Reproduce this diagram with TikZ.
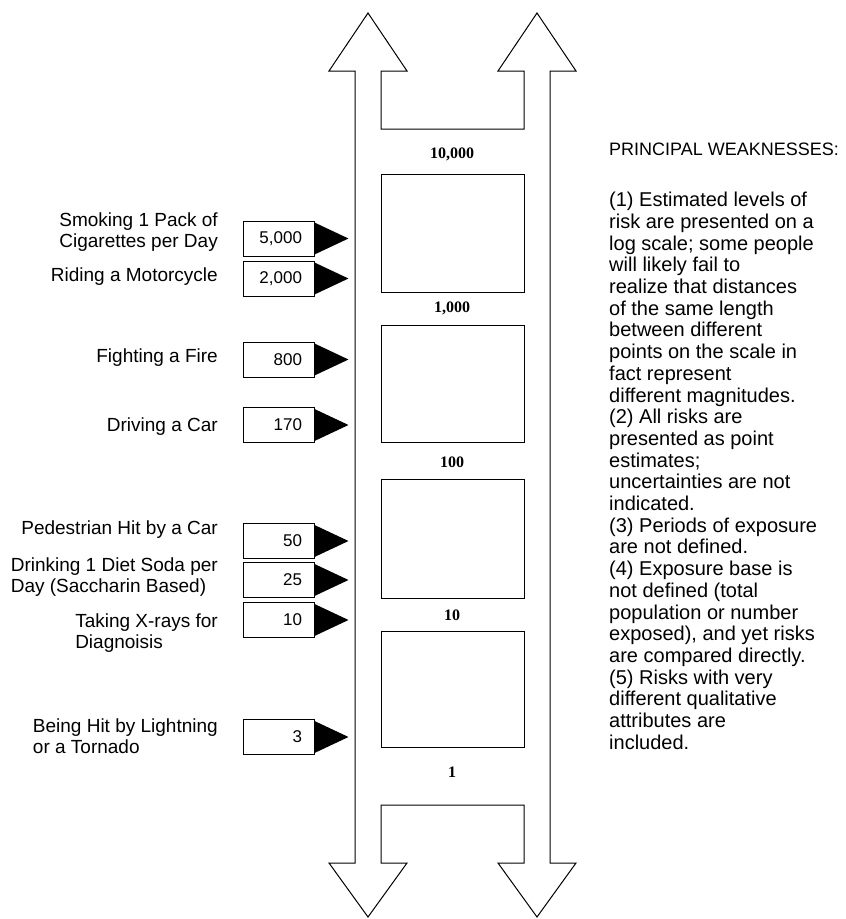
\documentclass[tikz,border=0pt]{standalone}
\usepackage{fontspec}
\setmainfont{Liberation Sans}
\newfontfamily\rungfont{Liberation Serif}

\tikzset{
    ladder/.style={line width=1pt, line join=miter},
    window/.style={line width=1pt},
    rung/.style={inner sep=0pt, font=\rungfont\bfseries\fontsize{16}{18}\selectfont},
    valbox/.style={draw, line width=1pt, minimum height=35pt, text width=47pt,
        inner xsep=12pt, align=right, font=\fontsize{17}{19}\selectfont},
    risk/.style={anchor=east, align=left, inner sep=0pt, font=\fontsize{19}{21.5}\selectfont},
}

\begin{document}
\begin{tikzpicture}[x=1pt, y=-1pt]
    \useasboundingbox (0,0) rectangle (846,919);

    % The ladder: two double arrows with rungs between them
    \draw[ladder] (368,13) -- (407,71) -- (381,71) -- (381,129) -- (524,129) -- (524,71)
        -- (498,71) -- (537,13) -- (576,71) -- (550,71) -- (550,863) -- (576,863)
        -- (537,917) -- (498,863) -- (524,863) -- (524,805) -- (381,805) -- (381,863)
        -- (407,863) -- (368,917) -- (329,863) -- (355,863) -- (355,71) -- (329,71) -- cycle;
    \foreach \ya/\yb in {174/292, 325/442, 479/598, 631/747}
        \draw[window] (381,\ya) rectangle (524,\yb);

    % Decades on the rungs
    \node[rung] (r4) at (452,154) {10,000};
    \node[rung] (r3) at (452,308) {1,000};
    \node[rung] (r2) at (452,462) {100};
    \node[rung] (r1) at (452,615) {10};
    \node[rung] (r0) at (452,772) {1};

    % Risks with their pointers
    \foreach \nm/\val/\by/\ty/\txt in {
        smoke/{5,000}/238.5/232/{Smoking 1 Pack of\\Cigarettes per Day},
        moto/{2,000}/278.5/277/{Riding a Motorcycle},
        fire/800/359.5/358/{Fighting a Fire},
        car/170/425/426.5/{Driving a Car},
        walk/50/541/530/{Pedestrian Hit by a Car},
        soda/25/580/577/{Drinking 1 Diet Soda per\\Day (Saccharin Based)},
        xray/10/620/633/{Taking X-rays for\\Diagnoisis},
        storm/3/737/736/{Being Hit by Lightning\\or a Tornado}} {
        \node[valbox] (v\nm) at (278.5,\by) {\val};
        \node[risk] (t\nm) at (218,\ty) {\txt};
        \fill ([yshift=-2pt]v\nm.north east) -- ([xshift=34pt]v\nm.east)
            -- ([yshift=2pt]v\nm.south east) -- cycle;
    }

    % Weaknesses
    \node[anchor=base west, inner sep=0pt, font=\fontsize{18}{20}\selectfont] (head) at (609,155)
        {PRINCIPAL WEAKNESSES:};
    \node[anchor=north west, inner sep=0pt, align=left, font=\fontsize{20}{21.7}\selectfont] (list)
        at (609,192) {(1) Estimated levels of\\risk are presented on a\\log scale; some people\\
        will likely fail to\\realize that distances\\of the same length\\between different\\
        points on the scale in\\fact represent\\different magnitudes.\\(2) All risks are\\
        presented as point\\estimates;\\uncertainties are not\\indicated.\\
        (3) Periods of exposure\\are not defined.\\(4) Exposure base is\\not defined (total\\
        population or number\\exposed), and yet risks\\are compared directly.\\
        (5) Risks with very\\different qualitative\\attributes are\\included.};
\end{tikzpicture}
\end{document}
